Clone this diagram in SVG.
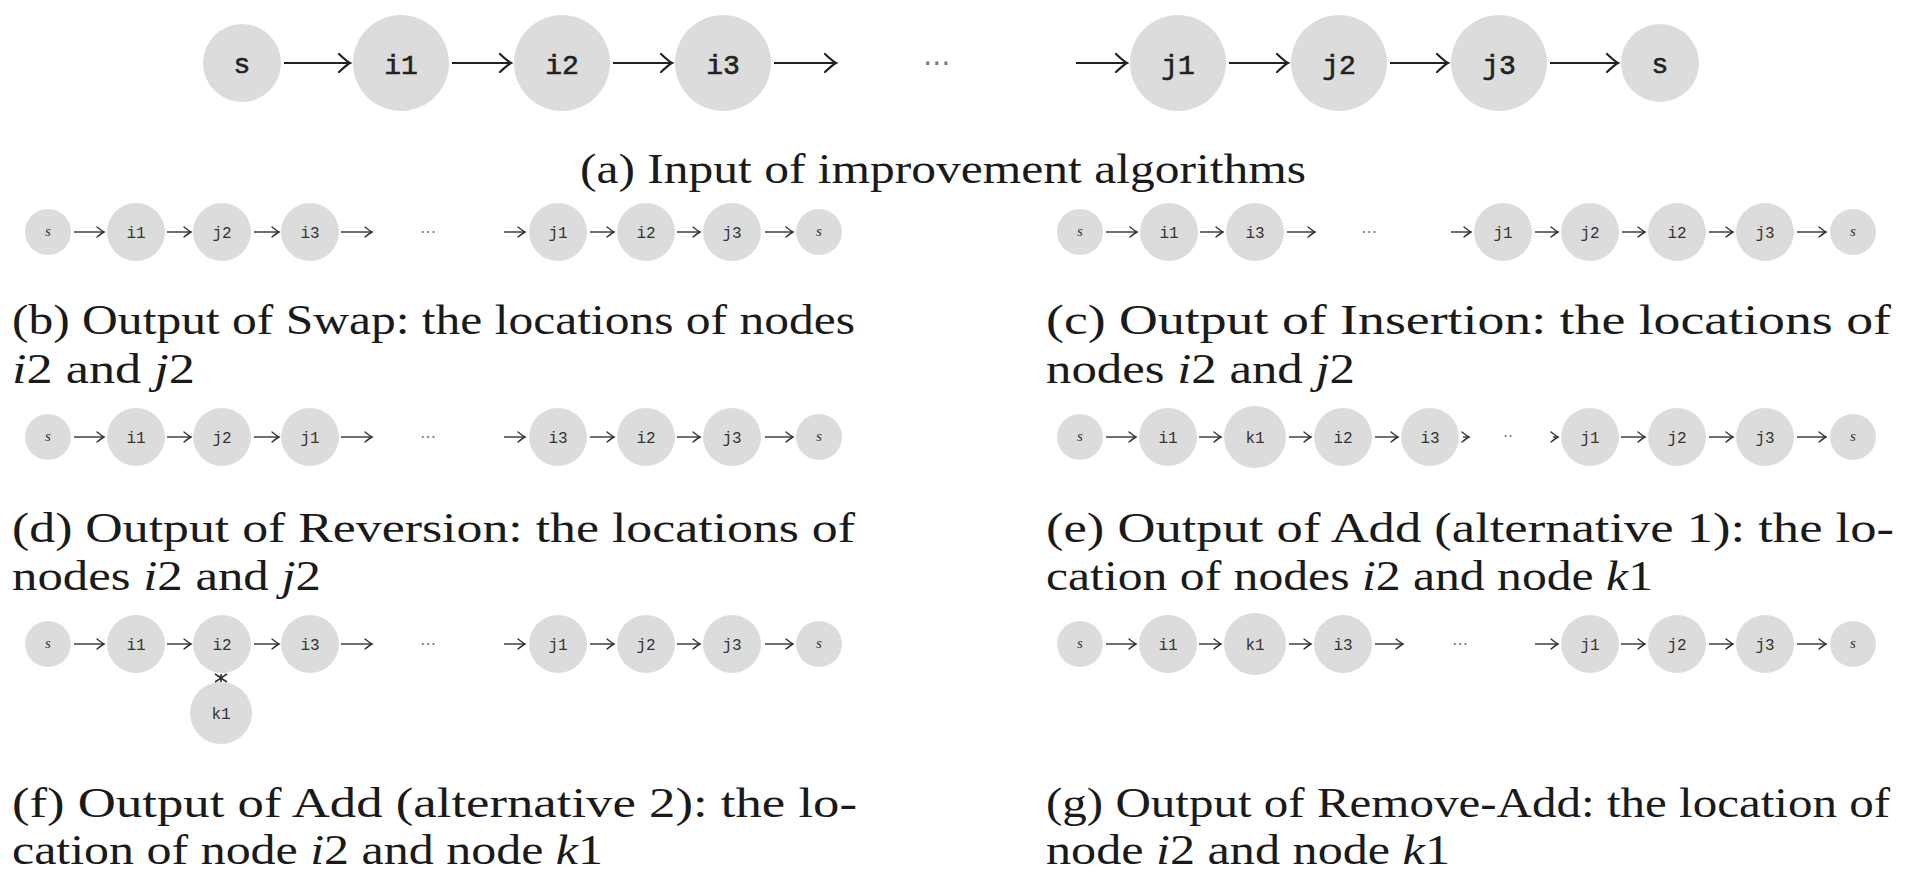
<svg xmlns="http://www.w3.org/2000/svg" width="1918" height="873" viewBox="0 0 1918 873">
<style>
.n{fill:#dcdcdc}
.la{font-family:"Liberation Mono",monospace;font-size:28px;fill:#222;stroke:#222;stroke-width:0.6;text-anchor:middle}
.ls{font-family:"Liberation Mono",monospace;font-size:16px;fill:#333;text-anchor:middle}
.ss{font-family:"Liberation Serif",serif;font-style:italic;font-size:15px;fill:#333;text-anchor:middle}
.dt{font-family:"DejaVu Sans",sans-serif;fill:#777;text-anchor:middle}
.cap{font-family:"Liberation Serif",serif;font-size:42px;fill:#1a1a1a}
.it{font-style:italic}
.ca{stroke:#222;stroke-width:2.2;fill:none;marker-end:url(#ha)}
.cs{stroke:#333;stroke-width:1.4;fill:none;marker-end:url(#hs)}
</style>
<defs>
<marker id="ha" markerUnits="userSpaceOnUse" viewBox="-15 -15 30 30" markerWidth="30" markerHeight="30" refX="0" refY="0" orient="auto" overflow="visible">
<path d="M-11,-9 Q-3,-1.5 0,0 Q-3,1.5 -11,9" fill="none" stroke="#222" stroke-width="2.2" stroke-linecap="round"/>
</marker>
<marker id="hs" markerUnits="userSpaceOnUse" viewBox="-10 -10 20 20" markerWidth="20" markerHeight="20" refX="0" refY="0" orient="auto" overflow="visible">
<path d="M-7,-5 Q-2,-1 0,0 Q-2,1 -7,5" fill="none" stroke="#333" stroke-width="1.4" stroke-linecap="round"/>
</marker>
</defs>
<rect width="1918" height="873" fill="#fff"/>

<!-- (a) -->
<g id="a-s1"><circle class="n" cx="242" cy="63" r="39"/><text class="la" x="242" y="73">s</text></g>
<g id="a-i1"><circle class="n" cx="401" cy="63" r="48"/><text class="la" x="401" y="74">i1</text></g>
<g id="a-i2"><circle class="n" cx="562" cy="63" r="48"/><text class="la" x="562" y="74">i2</text></g>
<g id="a-i3"><circle class="n" cx="723" cy="63" r="48"/><text class="la" x="723" y="74">i3</text></g>
<g id="a-dots"><text class="dt" x="937" y="72" font-size="28">⋯</text></g>
<g id="a-j1"><circle class="n" cx="1178" cy="63" r="48"/><text class="la" x="1178" y="74">j1</text></g>
<g id="a-j2"><circle class="n" cx="1339" cy="63" r="48"/><text class="la" x="1339" y="74">j2</text></g>
<g id="a-j3"><circle class="n" cx="1499" cy="63" r="48"/><text class="la" x="1499" y="74">j3</text></g>
<g id="a-s2"><circle class="n" cx="1660" cy="63" r="39"/><text class="la" x="1660" y="73">s</text></g>

<!-- (b) -->
<g id="b-s1"><circle class="n" cx="48" cy="232" r="23"/><text class="ss" x="48" y="236">s</text></g>
<g id="b-i1"><circle class="n" cx="136" cy="232" r="29"/><text class="ls" x="136" y="238">i1</text></g>
<g id="b-j2"><circle class="n" cx="222" cy="232" r="29"/><text class="ls" x="222" y="238">j2</text></g>
<g id="b-i3"><circle class="n" cx="310" cy="232" r="29"/><text class="ls" x="310" y="238">i3</text></g>
<g id="b-dots"><text class="dt" x="428" y="237" font-size="16">⋯</text></g>
<g id="b-j1"><circle class="n" cx="558" cy="232" r="29"/><text class="ls" x="558" y="238">j1</text></g>
<g id="b-i2"><circle class="n" cx="646" cy="232" r="29"/><text class="ls" x="646" y="238">i2</text></g>
<g id="b-j3"><circle class="n" cx="732" cy="232" r="29"/><text class="ls" x="732" y="238">j3</text></g>
<g id="b-s2"><circle class="n" cx="819" cy="232" r="23"/><text class="ss" x="819" y="236">s</text></g>

<!-- (c) -->
<g id="c-s1"><circle class="n" cx="1080" cy="232" r="23"/><text class="ss" x="1080" y="236">s</text></g>
<g id="c-i1"><circle class="n" cx="1169" cy="232" r="29"/><text class="ls" x="1169" y="238">i1</text></g>
<g id="c-i3"><circle class="n" cx="1255" cy="232" r="29"/><text class="ls" x="1255" y="238">i3</text></g>
<g id="c-dots"><text class="dt" x="1369" y="237" font-size="16">⋯</text></g>
<g id="c-j1"><circle class="n" cx="1503" cy="232" r="29"/><text class="ls" x="1503" y="238">j1</text></g>
<g id="c-j2"><circle class="n" cx="1590" cy="232" r="29"/><text class="ls" x="1590" y="238">j2</text></g>
<g id="c-i2"><circle class="n" cx="1677" cy="232" r="29"/><text class="ls" x="1677" y="238">i2</text></g>
<g id="c-j3"><circle class="n" cx="1765" cy="232" r="29"/><text class="ls" x="1765" y="238">j3</text></g>
<g id="c-s2"><circle class="n" cx="1853" cy="232" r="23"/><text class="ss" x="1853" y="236">s</text></g>

<!-- (d) -->
<g id="d-s1"><circle class="n" cx="48" cy="437" r="23"/><text class="ss" x="48" y="441">s</text></g>
<g id="d-i1"><circle class="n" cx="136" cy="437" r="29"/><text class="ls" x="136" y="443">i1</text></g>
<g id="d-j2"><circle class="n" cx="222" cy="437" r="29"/><text class="ls" x="222" y="443">j2</text></g>
<g id="d-j1"><circle class="n" cx="310" cy="437" r="29"/><text class="ls" x="310" y="443">j1</text></g>
<g id="d-dots"><text class="dt" x="428" y="442" font-size="16">⋯</text></g>
<g id="d-i3"><circle class="n" cx="558" cy="437" r="29"/><text class="ls" x="558" y="443">i3</text></g>
<g id="d-i2"><circle class="n" cx="646" cy="437" r="29"/><text class="ls" x="646" y="443">i2</text></g>
<g id="d-j3"><circle class="n" cx="732" cy="437" r="29"/><text class="ls" x="732" y="443">j3</text></g>
<g id="d-s2"><circle class="n" cx="819" cy="437" r="23"/><text class="ss" x="819" y="441">s</text></g>

<!-- (e) -->
<g id="e-s1"><circle class="n" cx="1080" cy="437" r="23"/><text class="ss" x="1080" y="441">s</text></g>
<g id="e-i1"><circle class="n" cx="1168" cy="437" r="29"/><text class="ls" x="1168" y="443">i1</text></g>
<g id="e-k1"><circle class="n" cx="1255" cy="437" r="31"/><text class="ls" x="1255" y="443">k1</text></g>
<g id="e-i2"><circle class="n" cx="1343" cy="437" r="29"/><text class="ls" x="1343" y="443">i2</text></g>
<g id="e-i3"><circle class="n" cx="1430" cy="437" r="29"/><text class="ls" x="1430" y="443">i3</text></g>
<g id="e-dots"><text class="dt" x="1508" y="442" font-size="16">··</text></g>
<g id="e-j1"><circle class="n" cx="1590" cy="437" r="29"/><text class="ls" x="1590" y="443">j1</text></g>
<g id="e-j2"><circle class="n" cx="1677" cy="437" r="29"/><text class="ls" x="1677" y="443">j2</text></g>
<g id="e-j3"><circle class="n" cx="1765" cy="437" r="29"/><text class="ls" x="1765" y="443">j3</text></g>
<g id="e-s2"><circle class="n" cx="1853" cy="437" r="23"/><text class="ss" x="1853" y="441">s</text></g>

<!-- (f) -->
<g id="f-s1"><circle class="n" cx="48" cy="644" r="23"/><text class="ss" x="48" y="648">s</text></g>
<g id="f-i1"><circle class="n" cx="136" cy="644" r="29"/><text class="ls" x="136" y="650">i1</text></g>
<g id="f-i2"><circle class="n" cx="222" cy="644" r="29"/><text class="ls" x="222" y="650">i2</text></g>
<g id="f-i3"><circle class="n" cx="310" cy="644" r="29"/><text class="ls" x="310" y="650">i3</text></g>
<g id="f-dots"><text class="dt" x="428" y="649" font-size="16">⋯</text></g>
<g id="f-j1"><circle class="n" cx="558" cy="644" r="29"/><text class="ls" x="558" y="650">j1</text></g>
<g id="f-j2"><circle class="n" cx="646" cy="644" r="29"/><text class="ls" x="646" y="650">j2</text></g>
<g id="f-j3"><circle class="n" cx="732" cy="644" r="29"/><text class="ls" x="732" y="650">j3</text></g>
<g id="f-s2"><circle class="n" cx="819" cy="644" r="23"/><text class="ss" x="819" y="648">s</text></g>
<g id="f-k1"><circle class="n" cx="221" cy="713" r="31"/><text class="ls" x="221" y="719">k1</text></g>

<!-- (g) -->
<g id="g-s1"><circle class="n" cx="1080" cy="644" r="23"/><text class="ss" x="1080" y="648">s</text></g>
<g id="g-i1"><circle class="n" cx="1168" cy="644" r="29"/><text class="ls" x="1168" y="650">i1</text></g>
<g id="g-k1"><circle class="n" cx="1255" cy="644" r="31"/><text class="ls" x="1255" y="650">k1</text></g>
<g id="g-i3"><circle class="n" cx="1343" cy="644" r="29"/><text class="ls" x="1343" y="650">i3</text></g>
<g id="g-dots"><text class="dt" x="1460" y="649" font-size="16">⋯</text></g>
<g id="g-j1"><circle class="n" cx="1590" cy="644" r="29"/><text class="ls" x="1590" y="650">j1</text></g>
<g id="g-j2"><circle class="n" cx="1677" cy="644" r="29"/><text class="ls" x="1677" y="650">j2</text></g>
<g id="g-j3"><circle class="n" cx="1765" cy="644" r="29"/><text class="ls" x="1765" y="650">j3</text></g>
<g id="g-s2"><circle class="n" cx="1853" cy="644" r="23"/><text class="ss" x="1853" y="648">s</text></g>

<g id="connectors">
<!-- (a) -->
<line class="ca" x1="284" y1="63" x2="350" y2="63"/>
<line class="ca" x1="452" y1="63" x2="511" y2="63"/>
<line class="ca" x1="613" y1="63" x2="672" y2="63"/>
<line class="ca" x1="774" y1="63" x2="836" y2="63"/>
<line class="ca" x1="1076" y1="63" x2="1127" y2="63"/>
<line class="ca" x1="1229" y1="63" x2="1288" y2="63"/>
<line class="ca" x1="1390" y1="63" x2="1448" y2="63"/>
<line class="ca" x1="1550" y1="63" x2="1618" y2="63"/>
<!-- (b) -->
<line class="cs" x1="74" y1="232" x2="104" y2="232"/>
<line class="cs" x1="167" y1="232" x2="191" y2="232"/>
<line class="cs" x1="254" y1="232" x2="279" y2="232"/>
<line class="cs" x1="341" y1="232" x2="372" y2="232"/>
<line class="cs" x1="504" y1="232" x2="525" y2="232"/>
<line class="cs" x1="590" y1="232" x2="614" y2="232"/>
<line class="cs" x1="677" y1="232" x2="700" y2="232"/>
<line class="cs" x1="765" y1="232" x2="793" y2="232"/>
<!-- (c) -->
<line class="cs" x1="1106" y1="232" x2="1137" y2="232"/>
<line class="cs" x1="1200" y1="232" x2="1223" y2="232"/>
<line class="cs" x1="1287" y1="232" x2="1315" y2="232"/>
<line class="cs" x1="1451" y1="232" x2="1471" y2="232"/>
<line class="cs" x1="1535" y1="232" x2="1558" y2="232"/>
<line class="cs" x1="1622" y1="232" x2="1645" y2="232"/>
<line class="cs" x1="1709" y1="232" x2="1733" y2="232"/>
<line class="cs" x1="1797" y1="232" x2="1826" y2="232"/>
<!-- (d) -->
<line class="cs" x1="74" y1="437" x2="104" y2="437"/>
<line class="cs" x1="167" y1="437" x2="191" y2="437"/>
<line class="cs" x1="254" y1="437" x2="279" y2="437"/>
<line class="cs" x1="341" y1="437" x2="372" y2="437"/>
<line class="cs" x1="504" y1="437" x2="525" y2="437"/>
<line class="cs" x1="590" y1="437" x2="614" y2="437"/>
<line class="cs" x1="677" y1="437" x2="700" y2="437"/>
<line class="cs" x1="765" y1="437" x2="793" y2="437"/>
<!-- (e) -->
<line class="cs" x1="1106" y1="437" x2="1136" y2="437"/>
<line class="cs" x1="1199" y1="437" x2="1221" y2="437"/>
<line class="cs" x1="1289" y1="437" x2="1311" y2="437"/>
<line class="cs" x1="1375" y1="437" x2="1398" y2="437"/>
<line class="cs" x1="1463" y1="437" x2="1469" y2="437"/>
<line class="cs" x1="1553" y1="437" x2="1558" y2="437"/>
<line class="cs" x1="1621" y1="437" x2="1645" y2="437"/>
<line class="cs" x1="1709" y1="437" x2="1733" y2="437"/>
<line class="cs" x1="1797" y1="437" x2="1826" y2="437"/>
<!-- (f) -->
<line class="cs" x1="74" y1="644" x2="104" y2="644"/>
<line class="cs" x1="167" y1="644" x2="191" y2="644"/>
<line class="cs" x1="254" y1="644" x2="279" y2="644"/>
<line class="cs" x1="341" y1="644" x2="372" y2="644"/>
<line class="cs" x1="504" y1="644" x2="525" y2="644"/>
<line class="cs" x1="590" y1="644" x2="614" y2="644"/>
<line class="cs" x1="677" y1="644" x2="700" y2="644"/>
<line class="cs" x1="765" y1="644" x2="793" y2="644"/>
<path d="M215,674 Q219,676.5 221,678 Q223,676.5 227,674 M215,682 Q219,679.5 221,678 Q223,679.5 227,682 M221,674 L221,682" fill="none" stroke="#333" stroke-width="1.6"/>
<!-- (g) -->
<line class="cs" x1="1106" y1="644" x2="1136" y2="644"/>
<line class="cs" x1="1199" y1="644" x2="1221" y2="644"/>
<line class="cs" x1="1289" y1="644" x2="1311" y2="644"/>
<line class="cs" x1="1375" y1="644" x2="1403" y2="644"/>
<line class="cs" x1="1535" y1="644" x2="1558" y2="644"/>
<line class="cs" x1="1621" y1="644" x2="1645" y2="644"/>
<line class="cs" x1="1709" y1="644" x2="1733" y2="644"/>
<line class="cs" x1="1797" y1="644" x2="1826" y2="644"/>
</g>

<g id="captions">
<text class="cap" x="580" y="183" textLength="726" lengthAdjust="spacingAndGlyphs">(a) Input of improvement algorithms</text>
<text class="cap" x="12" y="334" textLength="843" lengthAdjust="spacingAndGlyphs">(b) Output of Swap: the locations of nodes</text>
<text class="cap" x="12" y="383" textLength="183" lengthAdjust="spacingAndGlyphs"><tspan class="it">i</tspan>2 and <tspan class="it">j</tspan>2</text>
<text class="cap" x="1046" y="334" textLength="845" lengthAdjust="spacingAndGlyphs">(c) Output of Insertion: the locations of</text>
<text class="cap" x="1046" y="383" textLength="309" lengthAdjust="spacingAndGlyphs">nodes <tspan class="it">i</tspan>2 and <tspan class="it">j</tspan>2</text>
<text class="cap" x="12" y="542" textLength="843" lengthAdjust="spacingAndGlyphs">(d) Output of Reversion: the locations of</text>
<text class="cap" x="12" y="590" textLength="309" lengthAdjust="spacingAndGlyphs">nodes <tspan class="it">i</tspan>2 and <tspan class="it">j</tspan>2</text>
<text class="cap" x="1046" y="542" textLength="848" lengthAdjust="spacingAndGlyphs">(e) Output of Add (alternative 1): the lo-</text>
<text class="cap" x="1046" y="590" textLength="607" lengthAdjust="spacingAndGlyphs">cation of nodes <tspan class="it">i</tspan>2 and node <tspan class="it">k</tspan>1</text>
<text class="cap" x="12" y="817" textLength="845" lengthAdjust="spacingAndGlyphs">(f) Output of Add (alternative 2): the lo-</text>
<text class="cap" x="12" y="864" textLength="591" lengthAdjust="spacingAndGlyphs">cation of node <tspan class="it">i</tspan>2 and node <tspan class="it">k</tspan>1</text>
<text class="cap" x="1046" y="817" textLength="844" lengthAdjust="spacingAndGlyphs">(g) Output of Remove-Add: the location of</text>
<text class="cap" x="1046" y="864" textLength="404" lengthAdjust="spacingAndGlyphs">node <tspan class="it">i</tspan>2 and node <tspan class="it">k</tspan>1</text>
</g>
</svg>
